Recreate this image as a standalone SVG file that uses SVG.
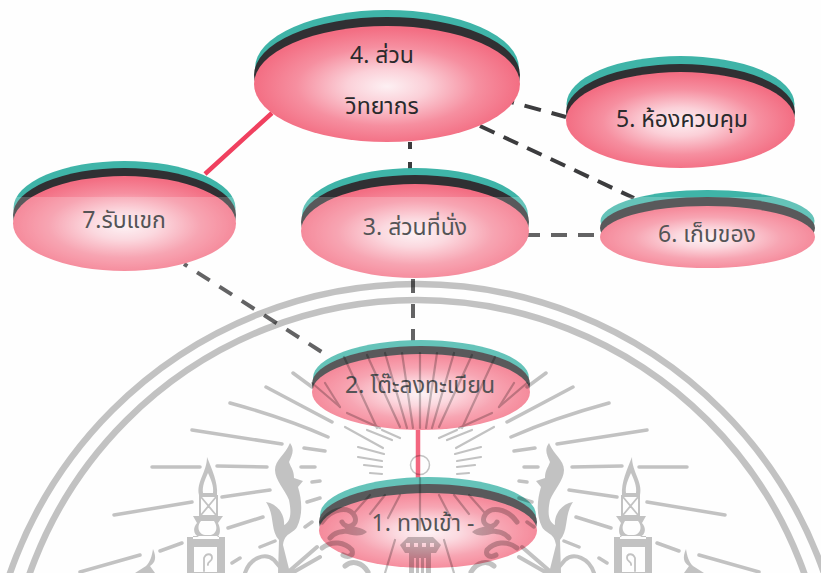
<svg xmlns="http://www.w3.org/2000/svg" width="821" height="573" viewBox="0 0 821 573">
<style>
.t{fill:#3fb4a8}.k{fill:#303033}.p{fill:url(#pg)}
text{font-family:"Noto Sans Thai","Noto Sans","DejaVu Sans",sans-serif;font-size:23px;fill:#2a2a2c;text-anchor:middle}
.red{stroke:#f0405f;stroke-width:4.500;fill:none}
.dash{stroke:#3c3c3e;stroke-width:4;fill:none}
.w{fill:none;stroke:#000;stroke-linecap:round}
.f{fill:#000;stroke:none;fill-rule:evenodd}
</style>
<defs>
<radialGradient id="pg" cx=".5" cy=".52" r=".5">
<stop offset="0" stop-color="#fdf0f3"/><stop offset=".3" stop-color="#fbd0d8"/><stop offset=".68" stop-color="#f68fa0"/><stop offset="1" stop-color="#f36e83"/>
</radialGradient>
<g id="half">
<g class="w" stroke-width="3.500">
<path d="M192 430L282 444M304 448L325 451M230 403Q285 418 328 437M266 387L332 422M293 373L312 387"/>
<path d="M152 467L200 467M217 466L267 467M301 467L315 467M114 515L192 502M222 497L270 490M312 482L320 481M80 572L140 555M160 551L182 543M228 528L263 517M260 547L275 541M232 563L240 558M307 502L320 498M305 527L312 522"/>
</g>
<g class="w" stroke-width="2.200">
<path d="M358 447L384 454M358 457L382 461M364 465L382 467M370 473L382 474M345 427L383 448M367 430L392 440M382 430L400 438"/>
<path d="M325 383L340 407M344 357L377 428M367 355L400 427M385 353L407 428M402 353L413 428"/>
<path d="M312 383L340 407M347 413L380 428"/>
<path d="M400 495L388 518M385 495L370 514M370 495L355 512M395 540L385 573"/>
</g>
<path class="f" d="M207 457C212 470 218 482 217 495H199C196 482 207 472 207 457ZM208 473C205 480 202 486 203 493H213C214 486 211 480 208 473Z"/>
<path class="f" d="M199 495H218V516H223L218 523C222 531 219 537 216 537H225V573H233V574H180V573H187V537H199C194 535 192 529 197 523L193 516H199ZM201 497V515H216V497ZM201 521C196 527 199 534 205 535H211C217 533 218 527 214 521ZM193 536V539H219V536ZM194 547V572H217V547Z"/>
<path class="w" stroke-width="1.800" d="M201 497L216 515M216 497L201 515M204 571V558C206 553 212 553 212 558C212 562 207 561 208 565"/>
<path class="f" d="M290 443C295 450 292 455 289 462C291 468 294 470 294 478L303 481L298 487C302 500 303 515 297 527C292 535 285 532 283 545L290 573H278L279 540C270 530 275 515 266 502C278 504 285 515 284 525C290 522 292 515 289 500C285 490 275 480 275 470C275 460 285 455 290 443Z"/>
<path class="w" stroke-width="4" d="M245 573C250 558 265 552 274 560L285 573M287 573L317 547M292 573L320 557"/>
<path class="f" d="M153 549C157 558 155 563 150 566L155 573H135L146 566C150 562 152 556 153 549Z"/>
<g class="w" stroke-width="5">
<path d="M322 522C332 508 350 505 355 517C358 526 346 530 342 522"/>
<path d="M356 530C345 532 336 530 330 538"/>
<path d="M322 548C332 540 345 542 352 550C354 556 348 558 343 555"/>
<path d="M345 566C352 560 362 562 368 572"/>
</g>
<path class="f" d="M345 523C352 527 362 527 367 532C362 537 352 536 345 533Z"/>
</g>
</defs>
<rect width="821" height="573" fill="#fefefe"/>

<g id="connectors">
<path class="red" d="M272 113L205 174M418 430V478"/>
<path class="dash" stroke-dasharray="7 13" d="M410 142V169"/>
<path class="dash" stroke-dasharray="14 11" d="M413 279V341"/>
<path class="dash" stroke-dasharray="16 11" d="M594 235H527"/>
<path class="dash" stroke-dasharray="17 11" stroke-dashoffset="14" d="M511 102L566 117"/>
<path class="dash" stroke-dasharray="16 10" d="M480 126L634 198"/>
<path class="dash" stroke-dasharray="15 11.500" stroke-dashoffset="11" d="M184 264L328 356"/>
</g>

<g id="node4">
<ellipse class="t" cx="387" cy="68" rx="132" ry="58"/><ellipse class="k" cx="387" cy="75" rx="133" ry="58"/><ellipse class="p" cx="387" cy="84" rx="133" ry="58"/>
<text x="382" y="63">4. ส่วน</text><text x="382" y="114">วิทยากร</text>
</g>
<g id="node5">
<ellipse class="t" cx="680.5" cy="104" rx="114" ry="48"/><ellipse class="k" cx="680.5" cy="112" rx="114.500" ry="48"/><ellipse class="p" cx="680.5" cy="120" rx="114.500" ry="48"/>
<text x="682" y="127">5. ห้องควบคุม</text>
</g>
<g id="node3">
<ellipse class="t" cx="415" cy="215" rx="113" ry="47"/><ellipse class="k" cx="415" cy="222" rx="114" ry="47"/><ellipse class="p" cx="415" cy="231" rx="114" ry="47"/>
<text x="415" y="235">3. ส่วนที่นั่ง</text>
</g>
<g id="node7">
<ellipse class="t" cx="124.500" cy="208" rx="111" ry="47"/><ellipse class="k" cx="124.500" cy="215" rx="111.500" ry="47"/><ellipse class="p" cx="124.500" cy="223.500" rx="111.500" ry="47.500"/>
<text x="124" y="228">7.รับแขก</text>
</g>
<g id="node6">
<ellipse class="t" cx="707.5" cy="221" rx="107" ry="31"/><ellipse class="k" cx="707.5" cy="228" rx="107.500" ry="31"/><ellipse class="p" cx="707.5" cy="237" rx="107.500" ry="31"/>
<text x="707" y="242">6. เก็บของ</text>
</g>
<g id="node2">
<ellipse class="t" cx="421" cy="378" rx="108" ry="38"/><ellipse class="k" cx="421" cy="384" rx="109" ry="38"/><ellipse class="p" cx="421" cy="392" rx="109" ry="38"/>
<text x="420" y="393">2. โต๊ะลงทะเบียน</text>
</g>
<g id="node1">
<ellipse class="t" cx="428" cy="515" rx="108" ry="38"/><ellipse class="k" cx="428" cy="522" rx="109" ry="38"/><ellipse class="p" cx="428" cy="530.5" rx="109" ry="37.500"/>
<text x="423" y="531">1. ทางเข้า -</text>
</g>

<rect id="veil" y="197" width="821" height="376" fill="#fff" opacity=".2"/>

<g id="watermark" opacity=".23">
<circle cx="417" cy="715" r="431" fill="none" stroke="#000" stroke-width="6.500"/>
<circle cx="417" cy="711" r="411" fill="none" stroke="#000" stroke-width="6.500"/>
<circle cx="420" cy="465" r="9.500" fill="none" stroke="#000" stroke-width="1.500"/>
<use href="#half"/>
<use href="#half" transform="translate(839 0) scale(-1 1)"/>
<path class="f" d="M408 537H433L441 545L436 553H431V573H409V553H405L400 545ZM406 543V547H410V543ZM414 543V547H418V543ZM422 543V547H426V543ZM430 543V547H434V543ZM414 558V573H416V558ZM419 558V573H421V558ZM424 558V573H426V558Z"/>
<path class="w" stroke-width="2.200" d="M420 353V428M420 478V530"/>
</g>
</svg>
